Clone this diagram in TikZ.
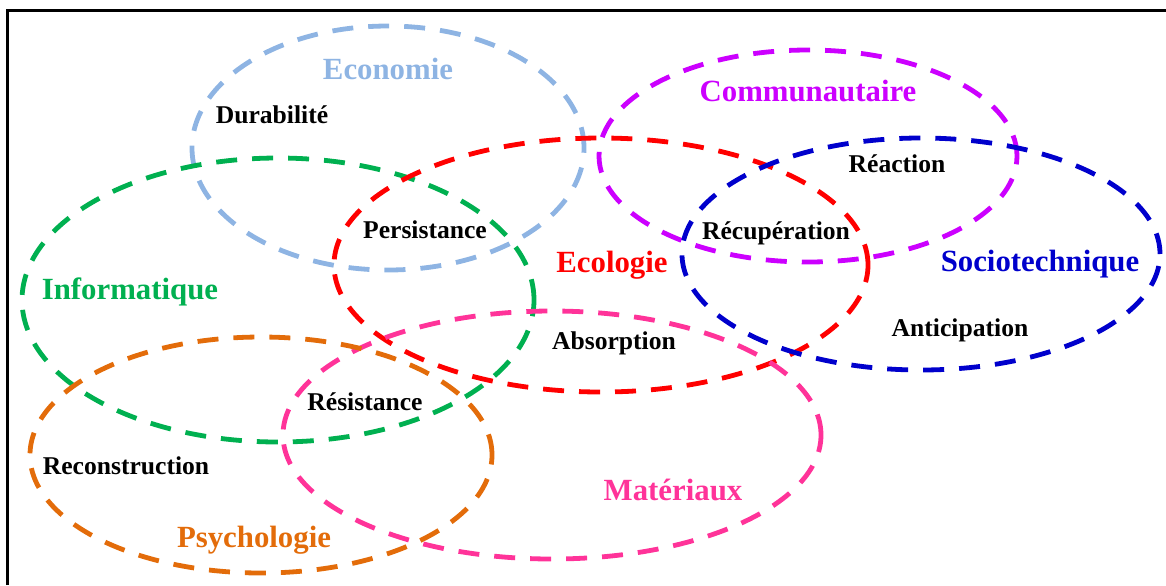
\documentclass[tikz,border=0pt]{standalone}
\usepackage{fontspec}
\setmainfont{Liberation Serif}
\usepackage{tikz}
\usetikzlibrary{shapes.geometric}
\definecolor{ecoblue}{HTML}{8EB4E3}
\definecolor{infogreen}{HTML}{00B050}
\definecolor{ecored}{HTML}{FF0000}
\definecolor{comviolet}{HTML}{CC00FF}
\definecolor{socblue}{HTML}{0000CC}
\definecolor{matpink}{HTML}{FF3399}
\definecolor{psyorange}{HTML}{E36C0A}
\tikzstyle{zone} = [ellipse, inner sep=0pt, line width=2.4pt, dash pattern=on 10.5pt off 7.5pt]
\tikzstyle{zonelabel} = [font=\bfseries\fontsize{15.4}{18}\selectfont, text height=10pt, text depth=3pt, inner sep=0pt]
\tikzstyle{facet} = [font=\bfseries\fontsize{12.8}{15}\selectfont, text height=8.5pt, text depth=2.5pt, inner sep=0pt]

\begin{document}
\begin{tikzpicture}[x=0.5pt, y=-0.5pt]
	\useasboundingbox (0,0) rectangle (1166,585);
	\draw [line width=1.5pt] (7,585) -- (7,10) -- (1166,10);

	\node (econ) [zone, draw=ecoblue, minimum width=196pt, minimum height=122pt] at (388,148) {};
	\node (info) [zone, draw=infogreen, minimum width=256pt, minimum height=142pt] at (278,300) {};
	\node (ecol) [zone, draw=ecored, minimum width=267pt, minimum height=127pt] at (601,265) {};
	\node (comm) [zone, draw=comviolet, minimum width=209pt, minimum height=106pt] at (808,156) {};
	\node (soct) [zone, draw=socblue, minimum width=239pt, minimum height=116pt] at (921,254) {};
	\node (mat) [zone, draw=matpink, minimum width=269pt, minimum height=124pt] at (552,435) {};
	\node (psy) [zone, draw=psyorange, minimum width=231pt, minimum height=118pt] at (261,455) {};

	\node (lecon) [zonelabel, text=ecoblue] at (388,72) {Economie};
	\node (lcomm) [zonelabel, text=comviolet] at (808,94) {Communautaire};
	\node (linfo) [zonelabel, text=infogreen] at (130,292) {Informatique};
	\node (lecol) [zonelabel, text=ecored] at (612,265) {Ecologie};
	\node (lsoct) [zonelabel, text=socblue] at (1040,264) {Sociotechnique};
	\node (lmat) [zonelabel, text=matpink] at (673,493) {Matériaux};
	\node (lpsy) [zonelabel, text=psyorange] at (254,540) {Psychologie};

	\node (dura) [facet] at (272,117) {Durabilité};
	\node (reac) [facet] at (897,166) {Réaction};
	\node (pers) [facet] at (425,232) {Persistance};
	\node (recu) [facet] at (776,233) {Récupération};
	\node (anti) [facet] at (960,330) {Anticipation};
	\node (abso) [facet] at (614,343) {Absorption};
	\node (resi) [facet] at (365,404) {Résistance};
	\node (reco) [facet] at (126,468) {Reconstruction};

\end{tikzpicture}
\end{document}
